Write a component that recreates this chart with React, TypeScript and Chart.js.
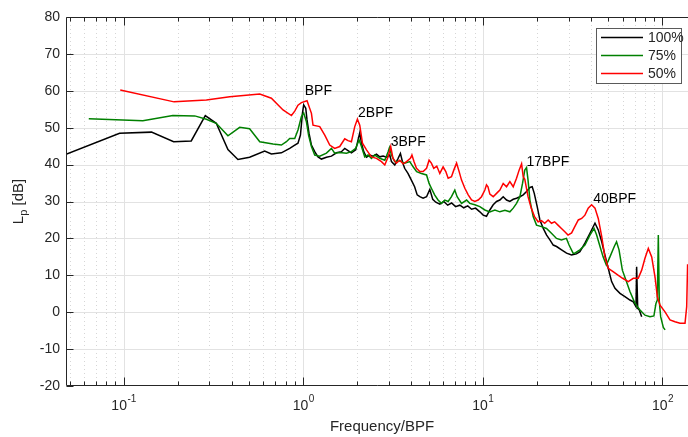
import React, { useEffect, useRef } from "react";
import { Chart, registerables } from "chart.js";

Chart.register(...registerables);

// ---------- data ----------
const freq100 = [
  0.0478, 0.095, 0.143, 0.19, 0.238, 0.285, 0.328, 0.381, 0.433, 0.503,
  0.61, 0.665, 0.756, 0.841, 0.897, 0.935, 0.965, 0.99, 1.006, 1.033,
  1.05, 1.077, 1.111, 1.159, 1.209, 1.263, 1.347, 1.436, 1.531, 1.632,
  1.703, 1.776, 1.855, 1.96, 2.02, 2.064, 2.11, 2.173, 2.251, 2.347,
  2.449, 2.557, 2.668, 2.785, 2.907, 3.033, 3.1, 3.233, 3.36, 3.476,
  3.58, 3.67, 3.83, 4.0, 4.17, 4.31, 4.457, 4.65, 4.86, 5.067,
  5.26, 5.47, 5.76, 6.06, 6.37, 6.7, 7.05, 7.445, 7.83, 8.24,
  8.66, 9.11, 9.62, 10.04, 10.48, 10.94, 11.42, 11.92, 12.44, 12.98,
  13.55, 14.14, 14.76, 15.4, 16.08, 16.78, 17.51, 18.28, 18.83, 19.33,
  20.07, 20.78, 21.69, 22.65, 23.62, 24.65, 25.73, 27.43, 29.24, 31.17,
  33.2, 34.7, 37.0, 39.46, 42.1, 43.9, 45.9, 47.8, 49.9, 52.1,
  54.4, 58.0, 61.8, 65.9, 68.8, 71.2, 71.8, 72.8, 74.3, 76.6,
];
const lp100 = [
  42.8, 48.5, 48.8, 46.2, 46.4, 53.3, 51.2, 44.1, 41.4, 42.0,
  43.7, 42.9, 43.2, 44.4, 45.3, 45.8, 48.0, 53.9, 56.2, 55.3,
  52.1, 48.5, 45.3, 43.5, 42.1, 41.5, 42.0, 42.3, 43.2, 43.5,
  44.4, 43.8, 43.2, 44.0, 46.7, 48.6, 45.8, 43.5, 42.0, 42.6,
  42.3, 42.8, 42.1, 42.3, 42.0, 42.6, 40.8, 39.9, 41.5, 43.0,
  40.5, 39.0, 37.6, 35.8, 34.0, 31.8, 31.3, 30.9, 31.3, 33.3,
  30.6, 29.8, 29.3, 30.0, 29.0, 29.6, 28.6, 29.0, 28.3, 28.8,
  27.9, 28.2, 27.2, 26.3, 26.0, 27.7, 29.1, 30.0, 30.4, 31.3,
  30.4, 30.0, 30.6, 30.9, 31.3, 31.8, 32.7, 33.8, 34.0, 32.2,
  28.6, 25.0, 22.7, 20.9, 19.6, 18.2, 17.8, 16.9, 16.0, 15.5,
  15.8, 16.4, 18.7, 21.4, 24.1, 22.3, 19.1, 15.5, 11.9, 8.3,
  6.5, 5.1, 4.2, 3.3, 2.8, 1.5, 12.3, 1.0, 0.6, -1.2,
];

const freq75 = [
  0.064, 0.128, 0.188, 0.249, 0.289, 0.328, 0.381, 0.443, 0.503, 0.573,
  0.679, 0.756, 0.806, 0.841, 0.897, 0.935, 0.977, 1.006, 1.042, 1.073,
  1.111, 1.159, 1.236, 1.347, 1.436, 1.497, 1.597, 1.741, 1.855, 1.96,
  2.046, 2.11, 2.2, 2.296, 2.398, 2.502, 2.668, 2.845, 2.97, 3.02,
  3.1, 3.233, 3.448, 3.674, 3.92, 4.09, 4.28, 4.55, 4.86, 5.02,
  5.17, 5.39, 5.63, 5.88, 6.14, 6.41, 6.69, 6.98, 7.19, 7.61,
  8.12, 8.46, 9.02, 9.62, 10.26, 10.94, 11.67, 12.44, 13.27, 14.14,
  14.76, 15.4, 16.08, 16.63, 17.12, 17.51, 17.85, 18.28, 19.06, 19.9,
  21.2, 22.6, 24.1, 25.7, 27.4, 29.2, 30.2, 31.8, 32.5, 34.7,
  37.0, 39.46, 41.6, 43.0, 44.9, 46.7, 48.7, 51.0, 53.9, 55.5,
  57.3, 59.8, 63.0, 65.9, 70.3, 74.95, 79.9, 85.2, 89.6, 92.0,
  93.6, 94.8, 96.0, 97.7, 101.1, 103.4,
];
const lp75 = [
  52.4, 51.9, 53.3, 53.2, 52.3, 51.2, 47.8, 50.1, 49.7, 46.2,
  45.6, 45.3, 46.2, 47.1, 47.1, 49.4, 53.0, 54.0, 51.6, 47.8,
  44.9, 42.6, 42.3, 43.1, 44.4, 43.1, 43.3, 43.1, 43.5, 44.4,
  46.7, 44.9, 42.1, 42.6, 41.7, 42.6, 41.7, 41.2, 43.5, 44.6,
  42.6, 40.8, 41.0, 40.4, 40.8, 39.4, 38.1, 37.6, 37.2, 34.9,
  33.6, 31.8, 30.4, 29.5, 30.4, 30.0, 31.3, 33.1, 31.3, 29.5,
  30.4, 29.5, 29.1, 28.6, 27.7, 27.2, 27.7, 27.2, 27.6, 27.2,
  28.2, 29.5, 31.3, 34.9, 38.5, 39.2, 35.8, 30.4, 25.9, 23.6,
  23.2, 22.7, 21.4, 20.0, 19.6, 20.0, 18.2, 16.0, 16.0, 16.9,
  18.2, 20.9, 22.7, 20.9, 17.8, 15.0, 12.8, 15.0, 17.8, 19.1,
  16.9, 11.4, 8.3, 5.6, 2.4, 0.6, -0.8, -1.2, -1.0, 2.4,
  3.3, 20.9, 3.0, -1.2, -4.1, -4.8,
];

const freq50 = [
  0.0958, 0.191, 0.289, 0.39, 0.573, 0.665, 0.772, 0.86, 0.897, 0.935,
  0.977, 1.05, 1.111, 1.134, 1.236, 1.318, 1.405, 1.497, 1.597, 1.703,
  1.776, 1.855, 1.936, 2.003, 2.064, 2.137, 2.251, 2.398, 2.557, 2.727,
  2.845, 2.97, 3.07, 3.16, 3.3, 3.448, 3.6, 3.76, 3.95, 4.03,
  4.14, 4.27, 4.457, 4.65, 4.86, 5.02, 5.17, 5.33, 5.54, 5.76,
  6.01, 6.22, 6.41, 6.69, 6.89, 7.14, 7.38, 7.61, 7.94, 8.29,
  8.65, 9.02, 9.42, 9.83, 10.26, 10.48, 10.68, 10.94, 11.42, 11.92,
  12.44, 12.98, 13.55, 14.14, 14.76, 15.4, 15.92, 16.43, 16.78, 17.12,
  17.85, 18.6, 19.4, 20.3, 21.2, 22.1, 23.1, 24.1, 25.1, 26.2,
  27.4, 28.6, 29.8, 31.2, 32.5, 34.0, 35.5, 37.0, 38.6, 40.3,
  42.1, 43.9, 45.9, 47.8, 49.9, 53.1, 56.3, 60.0, 64.5, 68.8,
  73.3, 76.6, 79.9, 83.4, 87.1, 90.85, 93.6, 96.9, 103.3, 110.1,
  117.4, 125.2, 133.5, 136.4, 138.0,
];
const lp50 = [
  60.2, 57.0, 57.5, 58.4, 59.1, 58.0, 54.8, 53.3, 54.5, 56.1,
  56.8, 57.3, 53.9, 50.7, 50.3, 48.0, 45.3, 44.4, 44.9, 47.0,
  46.5, 46.2, 50.3, 52.3, 50.7, 45.8, 44.0, 42.1, 41.7, 40.8,
  39.9, 42.1, 44.9, 41.7, 40.4, 41.2, 40.2, 40.8, 41.7, 42.6,
  40.8, 39.0, 38.1, 38.1, 39.0, 41.2, 40.4, 39.0, 39.6, 37.6,
  39.4, 38.1, 36.3, 36.7, 38.5, 40.4, 38.1, 35.8, 33.6, 31.8,
  30.4, 30.0, 30.4, 31.3, 33.1, 34.5, 34.0, 32.0, 31.3, 32.2,
  33.1, 34.9, 34.0, 35.4, 34.0, 36.3, 38.5, 40.2, 36.7, 36.0,
  31.3, 28.2, 25.9, 24.5, 24.8, 24.1, 25.0, 24.1, 24.5, 23.6,
  22.7, 21.8, 20.9, 21.5, 23.2, 25.0, 25.4, 26.3, 28.2, 29.1,
  28.2, 25.4, 20.5, 15.0, 11.9, 11.0, 10.1, 9.2, 8.3, 9.2,
  9.2, 11.4, 14.6, 17.3, 15.0, 9.6, 4.2, 1.9, 0.1, -2.1,
  -2.6, -3.0, -3.0, 1.5, 13.0,
];

const seriesLabels = ["100%", "75%", "50%"];

const yTickValues = [-20, -10, 0, 10, 20, 30, 40, 50, 60, 70, 80];
const xDecades = [0.1, 1, 10, 100];
const xDecadeExponents = ["-1", "0", "1", "2"];
const xMinorMultipliers = [2, 3, 4, 5, 6, 7, 8, 9];
const xMinorDecades = [0.01, 0.1, 1, 10, 100];

const annotationTexts = ["BPF", "2BPF", "3BPF", "17BPF", "40BPF"];
const annotationFreqs = [1.02, 2.02, 3.07, 17.5, 41.2];
const annotationLevels = [60.0, 53.9, 46.0, 40.8, 30.7];

const xTitle = "Frequency/BPF";
const yTitleMain = "L";
const yTitleSub = "p";
const yTitleRest = " [dB]";

const X_MIN = 0.0478;
const X_MAX = 138.7;
const Y_MIN = -20;
const Y_MAX = 80;

// ---------- styles ----------
const FONT = "'Liberation Sans', Arial, Helvetica, sans-serif";
const AXIS_COLOR = "#262626";
const SERIES_COLORS = ["#000000", "#008000", "#ff0000"];
const MAJOR_GRID = "#e2e2e2";
const MINOR_GRID = "#d6d6d6";

function toPoints(xs: number[], ys: number[]) {
  return xs.map((x, i) => ({ x, y: ys[i] }));
}

function minorValues(): number[] {
  const out: number[] = [];
  for (const d of xMinorDecades) {
    for (const m of xMinorMultipliers) {
      const v = m * d;
      if (v >= X_MIN && v <= X_MAX) out.push(v);
    }
  }
  return out;
}

const decorPlugin = {
  id: "matlabDecor",
  beforeDatasetsDraw(chart: any) {
    const { ctx, chartArea: a, scales } = chart;
    const xs = scales.x;
    const ys = scales.y;
    ctx.save();
    ctx.lineWidth = 1;
    // minor vertical dotted grid
    ctx.strokeStyle = MINOR_GRID;
    ctx.setLineDash([1, 3]);
    for (const v of minorValues()) {
      const px = Math.round(xs.getPixelForValue(v)) + 0.5;
      ctx.beginPath();
      ctx.moveTo(px, a.top);
      ctx.lineTo(px, a.bottom);
      ctx.stroke();
    }
    ctx.setLineDash([]);
    ctx.strokeStyle = MAJOR_GRID;
    for (const v of xDecades) {
      const px = Math.round(xs.getPixelForValue(v)) + 0.5;
      ctx.beginPath();
      ctx.moveTo(px, a.top);
      ctx.lineTo(px, a.bottom);
      ctx.stroke();
    }
    for (const v of yTickValues) {
      if (v === Y_MIN || v === Y_MAX) continue;
      const py = Math.round(ys.getPixelForValue(v)) + 0.5;
      ctx.beginPath();
      ctx.moveTo(a.left, py);
      ctx.lineTo(a.right, py);
      ctx.stroke();
    }
    ctx.restore();
  },
  afterDatasetsDraw(chart: any) {
    const { ctx, chartArea: a, scales } = chart;
    const xs = scales.x;
    const ys = scales.y;
    ctx.save();

    // annotations
    ctx.fillStyle = "#000000";
    ctx.font = `14px ${FONT}`;
    ctx.textAlign = "left";
    ctx.textBaseline = "middle";
    annotationTexts.forEach((t, i) => {
      ctx.fillText(t, xs.getPixelForValue(annotationFreqs[i]), ys.getPixelForValue(annotationLevels[i]));
    });

    // axes box
    ctx.strokeStyle = AXIS_COLOR;
    ctx.lineWidth = 1;
    const L = Math.round(a.left) + 0.5;
    const T = Math.round(a.top) + 0.5;
    const B = Math.round(a.bottom) - 0.5;
    ctx.beginPath();
    ctx.moveTo(a.right, T);
    ctx.lineTo(L, T);
    ctx.lineTo(L, B);
    ctx.lineTo(a.right, B);
    ctx.stroke();

    // x ticks (bottom and top, inward)
    const tick = (v: number, len: number) => {
      const px = Math.round(xs.getPixelForValue(v)) + 0.5;
      ctx.beginPath();
      ctx.moveTo(px, B);
      ctx.lineTo(px, B - len);
      ctx.moveTo(px, T);
      ctx.lineTo(px, T + len);
      ctx.stroke();
    };
    minorValues().forEach((v) => tick(v, 4));
    xDecades.forEach((v) => tick(v, 8));
    // y ticks (left, inward)
    for (const v of yTickValues) {
      const py = Math.round(ys.getPixelForValue(v)) + 0.5;
      ctx.beginPath();
      ctx.moveTo(L, py);
      ctx.lineTo(L + 7, py);
      ctx.stroke();
    }

    // x tick labels 10^n
    ctx.fillStyle = AXIS_COLOR;
    ctx.textBaseline = "alphabetic";
    ctx.textAlign = "left";
    xDecades.forEach((v, i) => {
      const px = xs.getPixelForValue(v);
      ctx.font = `14px ${FONT}`;
      const wBase = ctx.measureText("10").width;
      ctx.font = `10px ${FONT}`;
      const wExp = ctx.measureText(xDecadeExponents[i]).width;
      const start = px - (wBase + wExp) / 2;
      ctx.font = `14px ${FONT}`;
      ctx.fillText("10", start, B + 24);
      ctx.font = `10px ${FONT}`;
      ctx.fillText(xDecadeExponents[i], start + wBase + 0.5, B + 16);
    });

    // x title
    ctx.font = `15px ${FONT}`;
    ctx.textAlign = "center";
    ctx.textBaseline = "middle";
    ctx.fillText(xTitle, (a.left + a.right + 10) / 2, 427);

    // y title with subscript
    ctx.save();
    ctx.translate(19, (a.top + a.bottom) / 2);
    ctx.rotate(-Math.PI / 2);
    ctx.textAlign = "left";
    ctx.textBaseline = "middle";
    ctx.font = `15px ${FONT}`;
    const w1 = ctx.measureText(yTitleMain).width;
    const w3 = ctx.measureText(yTitleRest).width;
    ctx.font = `11px ${FONT}`;
    const w2 = ctx.measureText(yTitleSub).width;
    const total = w1 + w2 + w3;
    let cx = -total / 2;
    ctx.font = `15px ${FONT}`;
    ctx.fillText(yTitleMain, cx, 0);
    cx += w1;
    ctx.font = `11px ${FONT}`;
    ctx.fillText(yTitleSub, cx, 5);
    cx += w2;
    ctx.font = `15px ${FONT}`;
    ctx.fillText(yTitleRest, cx, 0);
    ctx.restore();

    // legend
    const lx = 596.5, ly = 28.5, lw = 85, lh = 55;
    ctx.fillStyle = "#ffffff";
    ctx.fillRect(lx, ly, lw, lh);
    ctx.strokeStyle = "#5a5a5a";
    ctx.lineWidth = 1;
    ctx.strokeRect(lx, ly, lw, lh);
    const rows = [37.5, 55.5, 73.5];
    ctx.font = `14px ${FONT}`;
    ctx.textAlign = "left";
    ctx.textBaseline = "middle";
    seriesLabels.forEach((lab, i) => {
      ctx.strokeStyle = SERIES_COLORS[i];
      ctx.lineWidth = 1.5;
      ctx.beginPath();
      ctx.moveTo(601, rows[i]);
      ctx.lineTo(643, rows[i]);
      ctx.stroke();
      ctx.fillStyle = AXIS_COLOR;
      ctx.fillText(lab, 648, rows[i] + 1);
    });

    ctx.restore();
  },
};

export default function App() {
  const ref = useRef<HTMLCanvasElement>(null);
  useEffect(() => {
    const canvas = ref.current;
    if (!canvas) return;
    const mk = (i: number, xs: number[], ys: number[], order: number) => ({
      label: seriesLabels[i],
      data: toPoints(xs, ys),
      borderColor: SERIES_COLORS[i],
      backgroundColor: SERIES_COLORS[i],
      borderWidth: 1.5,
      pointRadius: 0,
      pointHoverRadius: 0,
      tension: 0,
      fill: false,
      order,
    });
    const chart = new Chart(canvas, {
      type: "line",
      data: {
        datasets: [
          mk(0, freq100, lp100, 3),
          mk(1, freq75, lp75, 2),
          mk(2, freq50, lp50, 1),
        ],
      },
      options: {
        responsive: false,
        animation: false,
        devicePixelRatio: 1,
        events: [],
        layout: { padding: { top: 17, left: 0, right: 0, bottom: 0 } },
        plugins: {
          legend: { display: false },
          tooltip: { enabled: false },
          title: { display: false },
        },
        scales: {
          x: {
            type: "logarithmic",
            min: X_MIN,
            max: X_MAX,
            grid: { display: false, drawTicks: false },
            border: { display: false },
            ticks: { display: false },
            afterFit: (s: any) => {
              s.height = 51;
            },
          },
          y: {
            type: "linear",
            min: Y_MIN,
            max: Y_MAX,
            afterBuildTicks: (s: any) => {
              s.ticks = yTickValues.map((v) => ({ value: v }));
            },
            ticks: {
              color: AXIS_COLOR,
              font: { family: FONT, size: 14 },
              padding: 6,
              callback: (v: any) => String(v),
            },
            grid: { display: false, drawTicks: false },
            border: { display: false },
            afterFit: (s: any) => {
              s.width = 66;
            },
          },
        },
      } as any,
      plugins: [decorPlugin],
    });
    return () => chart.destroy();
  }, []);
  return (
    <div style={{ position: "absolute", left: 0, top: 0, width: 688, height: 437, background: "#ffffff" }}>
      <canvas ref={ref} width={688} height={437} style={{ display: "block" }} />
    </div>
  );
}
